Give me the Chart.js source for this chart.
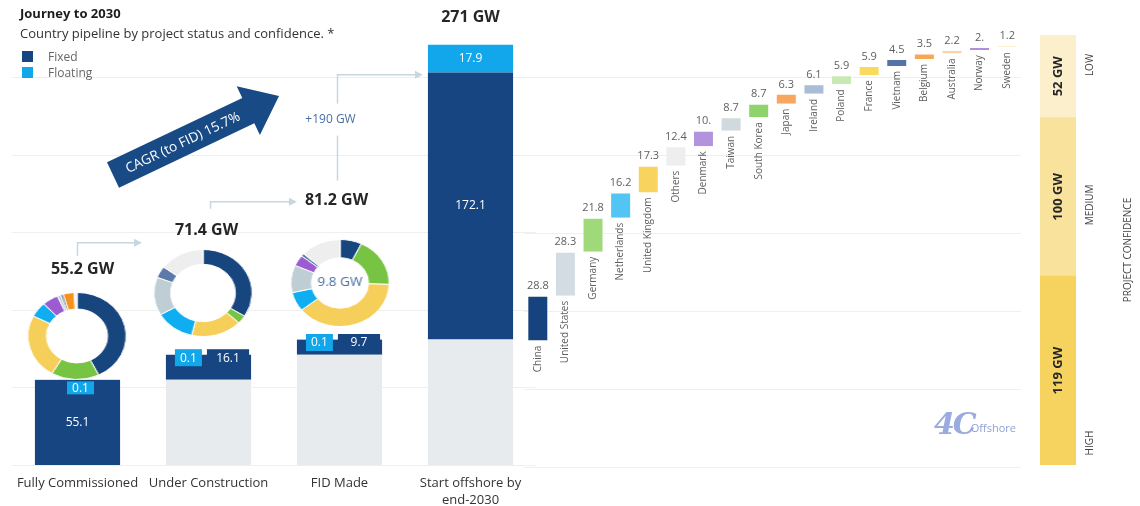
<!DOCTYPE html>
<html>
<head>
<meta charset="utf-8">
<title>Journey to 2030</title>
<script src="https://cdn.jsdelivr.net/npm/chart.js@4.4.0/dist/chart.umd.min.js"></script>
<style>
  html, body { margin: 0; padding: 0; background: #fff; }
  body { width: 1140px; height: 506px; position: relative; overflow: hidden; font-family: 'Open Sans', sans-serif; }
  .pane { position: absolute; top: 0; height: 506px; }
  .donut { position: absolute; width: 88px; height: 88px; transform: scaleX(1.13); }
  #heading { position: absolute; left: 20px; top: 3px; color: #1c1c1c; }
  #heading .main { font-weight: 700; font-size: 13px; line-height: 20px; }
  #heading .sub { font-size: 13px; line-height: 20px; color: #333; }
  #legend { position: absolute; left: 22px; top: 49px; font-size: 12px; color: #666; }
  #legend div { height: 16px; line-height: 15px; }
  #legend i { display: inline-block; width: 11px; height: 11px; margin-right: 15px; vertical-align: -1px; }
  #logo { position: absolute; left: 934px; top: 406px; color: #9aabdf; white-space: nowrap; }
  #logo .mark { font-family: 'DejaVu Serif', serif; font-style: italic; font-weight: 700; font-size: 30px; letter-spacing: -2px; }
  #logo .name { font-size: 11px; color: #8d9fd8; margin-left: -4px; position: relative; top: -2px; }
</style>
</head>
<body>
<div class="pane" style="left:0;width:540px;height:518px"><canvas id="status"></canvas></div>
<div class="pane" style="left:520px;width:510px"><canvas id="countries"></canvas></div>
<div class="pane" style="left:1030px;width:110px"><canvas id="confidence"></canvas></div>
<div class="donut" style="left:33px;top:292px"><canvas id="donutCommissioned"></canvas></div>
<div class="donut" style="left:159px;top:249px"><canvas id="donutConstruction"></canvas></div>
<div class="donut" style="left:296px;top:239px"><canvas id="donutFid"></canvas></div>

<div id="heading">
  <div class="main">Journey to 2030</div>
  <div class="sub">Country pipeline by project status and confidence. *</div>
</div>
<div id="legend">
  <div><i style="background:#174581"></i>Fixed</div>
  <div><i style="background:#12a6ea"></i>Floating</div>
</div>
<div id="logo"><span class="mark">4C</span><span class="name">Offshore</span></div>

<script>
Chart.defaults.font.family = "'Open Sans', sans-serif";
Chart.defaults.animation = false;

// project status stages
const stages = ['Fully Commissioned', 'Under Construction', 'FID Made', ['Start offshore by', 'end-2030']];
const fixedGW = [55.1, 16.1, 9.7, 172.1];
const floatingGW = [0.1, 0.1, 0.1, 17.9];

// country additions between FID and end-2030
const countries = ['China', 'United States', 'Germany', 'Netherlands', 'United Kingdom', 'Others', 'Denmark', 'Taiwan',
  'South Korea', 'Japan', 'Ireland', 'Poland', 'France', 'Vietnam', 'Belgium', 'Australia', 'Norway', 'Sweden'];
const countryGW = [28.8, 28.3, 21.8, 16.2, 17.3, 12.4, 10, 8.7, 8.7, 6.3, 6.1, 5.9, 5.9, 4.5, 3.5, 2.2, 2, 1.2];
const countryColours = ['#16427d', '#d2dce2', '#9fd97a', '#52c5f5', '#f8d45f', '#eeeeee', '#b394dc', '#d0dade',
  '#8fd36c', '#f7a760', '#a9bdd6', '#c9e9b4', '#fada5c', '#5274a7', '#f8a556', '#fbd2a8', '#b08edb', '#fbf0d0'];

// country split of each status stage
const commissionedCountries = ['China', 'Germany', 'United Kingdom', 'Netherlands', 'Denmark', 'Taiwan', 'Vietnam', 'Belgium', 'Others'];
const commissionedGW = [23.6, 8.7, 13.3, 3.1, 2.9, 0.6, 0.5, 2.0, 0.5];
const constructionCountries = ['China', 'Germany', 'United Kingdom', 'Netherlands', 'Taiwan', 'Vietnam', 'Others'];
const constructionGW = [5.5, 0.5, 2.7, 2.1, 2.3, 0.7, 2.4];
const fidCountries = ['China', 'Germany', 'United Kingdom', 'Netherlands', 'Taiwan', 'Denmark', 'Vietnam', 'Others'];
const fidGW = [0.7, 1.8, 3.8, 0.7, 1.0, 0.4, 0.1, 1.3];

// confidence of the end-2030 pipeline
const confidenceLevels = ['HIGH', 'MEDIUM', 'LOW'];
const confidenceGW = [119, 100, 52];
const confidenceColours = ['#f6d25f', '#f9e29c', '#fcf0cc'];

const donutPalette = {
  'China': '#17457e', 'Germany': '#76c442', 'United Kingdom': '#f6cf5b', 'Netherlands': '#0eaef0',
  'Denmark': '#9a5cd0', 'Taiwan': '#bfcdd5', 'Vietnam': '#5b7aa9', 'Belgium': '#f5921e', 'Others': '#eeeeee'
};

const NAVY = '#174581', SKY = '#12a6ea', BASE_GREY = '#e7ebee', GRID = '#efefef', LINK = '#c8d6e0';

// running totals: every stage sits on top of the previous one
const stageTotals = [];
fixedGW.reduce((acc, v, i) => { const t = acc + v + floatingGW[i]; stageTotals.push(t); return t; }, 0);
const stageBase = stageTotals.map((t, i) => i === 0 ? 0 : stageTotals[i - 1]);

let running = stageTotals[2];
const countrySpans = countryGW.map(v => { const span = [running, running + v]; running += v; return span; });
const addedGW = countryGW.reduce((a, b) => a + b, 0);

// headline label offsets from bar tops [dx, dy]
const headlineShift = [[5, -110], [-2, -124], [-3, -139], [0, -27]];

function fmtTotal(v) {
  return (v >= 100 ? Math.round(v) : v.toFixed(1)) + ' GW';
}

function tag(ctx, colour, text, cx, cy, w, h) {
  ctx.fillStyle = colour;
  ctx.fillRect(cx - w / 2, cy - h / 2, w, h);
  ctx.fillStyle = '#fff';
  ctx.fillText(text, cx, cy + 0.5);
}

function arrowHead(ctx, x, y) {
  ctx.beginPath();
  ctx.moveTo(x, y);
  ctx.lineTo(x - 8, y - 4);
  ctx.lineTo(x - 8, y + 4);
  ctx.closePath();
  ctx.fill();
}

function drawTrendArrow(ctx) {
  const tail = { x: 113, y: 175 }, tip = { x: 279, y: 96 };
  const len = Math.hypot(tip.x - tail.x, tip.y - tail.y);
  ctx.save();
  ctx.translate(tail.x, tail.y);
  ctx.rotate(Math.atan2(tip.y - tail.y, tip.x - tail.x));
  ctx.beginPath();
  ctx.moveTo(0, -14);
  ctx.lineTo(len - 34, -14);
  ctx.lineTo(len - 34, -27);
  ctx.lineTo(len, 0);
  ctx.lineTo(len - 34, 27);
  ctx.lineTo(len - 34, 14);
  ctx.lineTo(0, 14);
  ctx.closePath();
  ctx.fillStyle = '#184a85';
  ctx.fill();
  ctx.fillStyle = '#fff';
  ctx.font = '13.5px "Open Sans"';
  ctx.textAlign = 'center';
  ctx.textBaseline = 'middle';
  ctx.fillText('CAGR (to FID) 15.7%', 77, 1);
  ctx.restore();
}

const statusAnnotations = {
  id: 'statusAnnotations',
  afterDatasetsDraw(chart) {
    const ctx = chart.ctx;
    const fixedBars = chart.getDatasetMeta(1).data;
    const floatBars = chart.getDatasetMeta(2).data;
    ctx.save();
    ctx.textAlign = 'center';
    ctx.textBaseline = 'middle';
    ctx.font = '12px "Open Sans"';

    // segment values
    fixedBars.forEach((fx, i) => {
      const fl = floatBars[i];
      const fixedH = fx.base - fx.y, floatH = fl.base - fl.y;
      const left = fx.x - fx.width / 2, right = fx.x + fx.width / 2;
      if (fixedH > 40) {
        ctx.fillStyle = '#fff';
        ctx.fillText(fixedGW[i].toFixed(1), fx.x, (fx.y + fx.base) / 2);
        if (floatH > 15) {
          ctx.fillText(floatingGW[i].toFixed(1), fl.x, (fl.y + fl.base) / 2);
        } else {
          tag(ctx, SKY, floatingGW[i].toFixed(1), fx.x + 3, fl.y + 8, 27, 13);
        }
      } else {
        const cy = fl.y + 3;
        tag(ctx, SKY, floatingGW[i].toFixed(1), left + 22.5, cy, 27, 17);
        tag(ctx, NAVY, fixedGW[i].toFixed(1), (left + 41 + right - 2) / 2, cy, right - 2 - (left + 41), 17);
      }
    });

    // stage totals
    const heads = floatBars.map((fl, i) => ({ x: fl.x + headlineShift[i][0], y: fl.y + headlineShift[i][1] }));
    ctx.font = 'bold 16px "Open Sans"';
    ctx.fillStyle = '#262626';
    heads.forEach((h, i) => ctx.fillText(fmtTotal(stageTotals[i]), h.x, h.y));

    // links between stages
    ctx.strokeStyle = LINK;
    ctx.fillStyle = LINK;
    ctx.lineWidth = 1.5;
    const links = [
      { x: fixedBars[0].x, y0: heads[0].y - 14, y1: heads[0].y - 27, x1: fixedBars[1].x - fixedBars[1].width / 2 - 24 },
      { x: fixedBars[1].x + 2, y0: heads[1].y - 22, y1: heads[1].y - 29, x1: fixedBars[2].x - fixedBars[2].width / 2 },
      { x: fixedBars[2].x - 2, y0: heads[2].y - 20, y1: heads[3].y + 57, x1: fixedBars[3].x - fixedBars[3].width / 2 - 5 }
    ];
    links.forEach(l => {
      ctx.beginPath();
      ctx.moveTo(l.x, l.y0);
      ctx.lineTo(l.x, l.y1);
      ctx.lineTo(l.x1 - 6, l.y1);
      ctx.stroke();
      arrowHead(ctx, l.x1, l.y1);
    });

    // added capacity on the long link
    const last = links[2];
    const my = (last.y0 + last.y1) / 2 - 8;
    ctx.fillStyle = '#fff';
    ctx.fillRect(last.x - 36, my - 16, 62, 32);
    ctx.fillStyle = '#4a6fa5';
    ctx.font = '12px "Open Sans"';
    ctx.fillText('+' + Math.round(addedGW) + ' GW', last.x - 7, my);

    drawTrendArrow(ctx);
    ctx.restore();
  }
};

new Chart(document.getElementById('status'), {
  type: 'bar',
  data: {
    labels: stages,
    datasets: [
      { label: 'Earlier stages', data: stageBase, backgroundColor: BASE_GREY },
      { label: 'Fixed', data: fixedGW, backgroundColor: NAVY },
      { label: 'Floating', data: floatingGW, backgroundColor: SKY }
    ]
  },
  options: {
    responsive: true,
    maintainAspectRatio: false,
    layout: { padding: { left: 12, right: 4, top: 0, bottom: 0 } },
    datasets: { bar: { barPercentage: 0.65, categoryPercentage: 1 } },
    plugins: { legend: { display: false }, tooltip: { enabled: false } },
    scales: {
      x: {
        stacked: true,
        grid: { display: false, drawTicks: false },
        border: { display: false },
        ticks: { color: '#333', font: { size: 13, lineHeight: 1.25 }, padding: 10, maxRotation: 0, autoSkip: false }
      },
      y: {
        stacked: true, min: 0, max: 300,
        ticks: { display: false, stepSize: 50 },
        grid: { color: c => c.tick.value === 300 ? 'rgba(0,0,0,0)' : GRID, drawTicks: false },
        border: { display: false }
      }
    }
  },
  plugins: [statusAnnotations]
});

const countryLabels = {
  id: 'countryLabels',
  afterDatasetsDraw(chart) {
    const ctx = chart.ctx;
    ctx.save();
    chart.getDatasetMeta(0).data.forEach((bar, i) => {
      const v = countryGW[i];
      ctx.fillStyle = '#5f5f5f';
      ctx.font = '11px "Open Sans"';
      ctx.textAlign = 'center';
      ctx.textBaseline = 'bottom';
      ctx.fillText(Number.isInteger(v) ? v + '.' : v.toFixed(1), bar.x, bar.y - 4);
      ctx.save();
      ctx.translate(bar.x, bar.base + 5);
      ctx.rotate(-Math.PI / 2);
      ctx.textAlign = 'right';
      ctx.textBaseline = 'middle';
      ctx.font = '10px "Open Sans"';
      ctx.fillText(countries[i], 0, 0);
      ctx.restore();
    });
    ctx.restore();
  }
};

new Chart(document.getElementById('countries'), {
  type: 'bar',
  data: {
    labels: countries,
    datasets: [{ data: countrySpans, backgroundColor: countryColours, borderColor: 'rgba(255,255,255,0.5)', borderWidth: 1 }]
  },
  options: {
    responsive: true,
    maintainAspectRatio: false,
    layout: { padding: { left: 4, right: 9, top: 0, bottom: 39 } },
    datasets: { bar: { barPercentage: 0.76, categoryPercentage: 1 } },
    plugins: { legend: { display: false }, tooltip: { enabled: false } },
    scales: {
      x: { display: false },
      y: {
        min: 0, max: 300,
        ticks: { display: false, stepSize: 50 },
        grid: { color: c => c.tick.value === 300 ? 'rgba(0,0,0,0)' : GRID, drawTicks: false },
        border: { display: false }
      }
    }
  },
  plugins: [countryLabels]
});

const confidenceLabels = {
  id: 'confidenceLabels',
  afterDatasetsDraw(chart) {
    const ctx = chart.ctx;
    const area = chart.chartArea;
    ctx.save();
    ctx.textBaseline = 'middle';
    chart.data.datasets.forEach((ds, i) => {
      const seg = chart.getDatasetMeta(i).data[0];
      ctx.save();
      ctx.translate(seg.x, (seg.y + seg.base) / 2);
      ctx.rotate(-Math.PI / 2);
      ctx.textAlign = 'center';
      ctx.fillStyle = '#262626';
      ctx.font = 'bold 13px "Open Sans"';
      ctx.fillText(confidenceGW[i] + ' GW', 0, 0);
      ctx.restore();

      // level name: high sits low, low sits high
      const y = i === 0 ? seg.base - 22 : i === 1 ? (seg.y + seg.base) / 2 + 8 : seg.y + 30;
      ctx.save();
      ctx.translate(area.right + 14, y);
      ctx.rotate(-Math.PI / 2);
      ctx.textAlign = 'center';
      ctx.fillStyle = '#444';
      ctx.font = '10px "Open Sans"';
      ctx.fillText(confidenceLevels[i], 0, 0);
      ctx.restore();
    });
    ctx.translate(area.right + 52, (area.top + area.bottom) / 2);
    ctx.rotate(-Math.PI / 2);
    ctx.textAlign = 'center';
    ctx.fillStyle = '#444';
    ctx.font = '10px "Open Sans"';
    ctx.fillText('PROJECT CONFIDENCE', 0, 0);
    ctx.restore();
  }
};

new Chart(document.getElementById('confidence'), {
  type: 'bar',
  data: {
    labels: ['Pipeline'],
    datasets: confidenceLevels.map((lvl, i) => ({ label: lvl, data: [confidenceGW[i]], backgroundColor: confidenceColours[i] }))
  },
  options: {
    responsive: true,
    maintainAspectRatio: false,
    layout: { padding: { left: 10, right: 64, top: 35, bottom: 41 } },
    datasets: { bar: { barPercentage: 1, categoryPercentage: 1 } },
    plugins: { legend: { display: false }, tooltip: { enabled: false } },
    scales: {
      x: { stacked: true, display: false },
      y: { stacked: true, display: false, min: 0, max: confidenceGW.reduce((a, b) => a + b, 0) }
    }
  },
  plugins: [confidenceLabels]
});

// white face behind each ring, optional total in the hole
const donutFace = {
  id: 'donutFace',
  beforeDatasetsDraw(chart) {
    const arc = chart.getDatasetMeta(0).data[0];
    if (!arc) return;
    const ctx = chart.ctx;
    ctx.save();
    ctx.beginPath();
    ctx.arc(arc.x, arc.y, arc.outerRadius, 0, Math.PI * 2);
    ctx.fillStyle = '#fff';
    ctx.fill();
    ctx.restore();
  },
  afterDatasetsDraw(chart, args, opts) {
    if (!opts.showTotal) return;
    const arc = chart.getDatasetMeta(0).data[0];
    const total = chart.data.datasets[0].data.reduce((a, b) => a + b, 0);
    const ctx = chart.ctx;
    ctx.save();
    ctx.fillStyle = '#4a6fa5';
    ctx.font = '12px "Open Sans"';
    ctx.textAlign = 'center';
    ctx.textBaseline = 'middle';
    ctx.fillText(total.toFixed(1) + ' GW', arc.x, arc.y);
    ctx.restore();
  }
};

function donut(id, names, values, cutout, showTotal) {
  new Chart(document.getElementById(id), {
    type: 'doughnut',
    data: {
      labels: names,
      datasets: [{ data: values, backgroundColor: names.map(n => donutPalette[n]), borderColor: '#fff', borderWidth: 1 }]
    },
    options: {
      responsive: true,
      maintainAspectRatio: false,
      cutout: cutout,
      plugins: { legend: { display: false }, tooltip: { enabled: false }, donutFace: { showTotal: showTotal } }
    },
    plugins: [donutFace]
  });
}

donut('donutCommissioned', commissionedCountries, commissionedGW, '62%', false);
donut('donutConstruction', constructionCountries, constructionGW, '66%', false);
donut('donutFid', fidCountries, fidGW, '58%', true);
</script>
</body>
</html>
